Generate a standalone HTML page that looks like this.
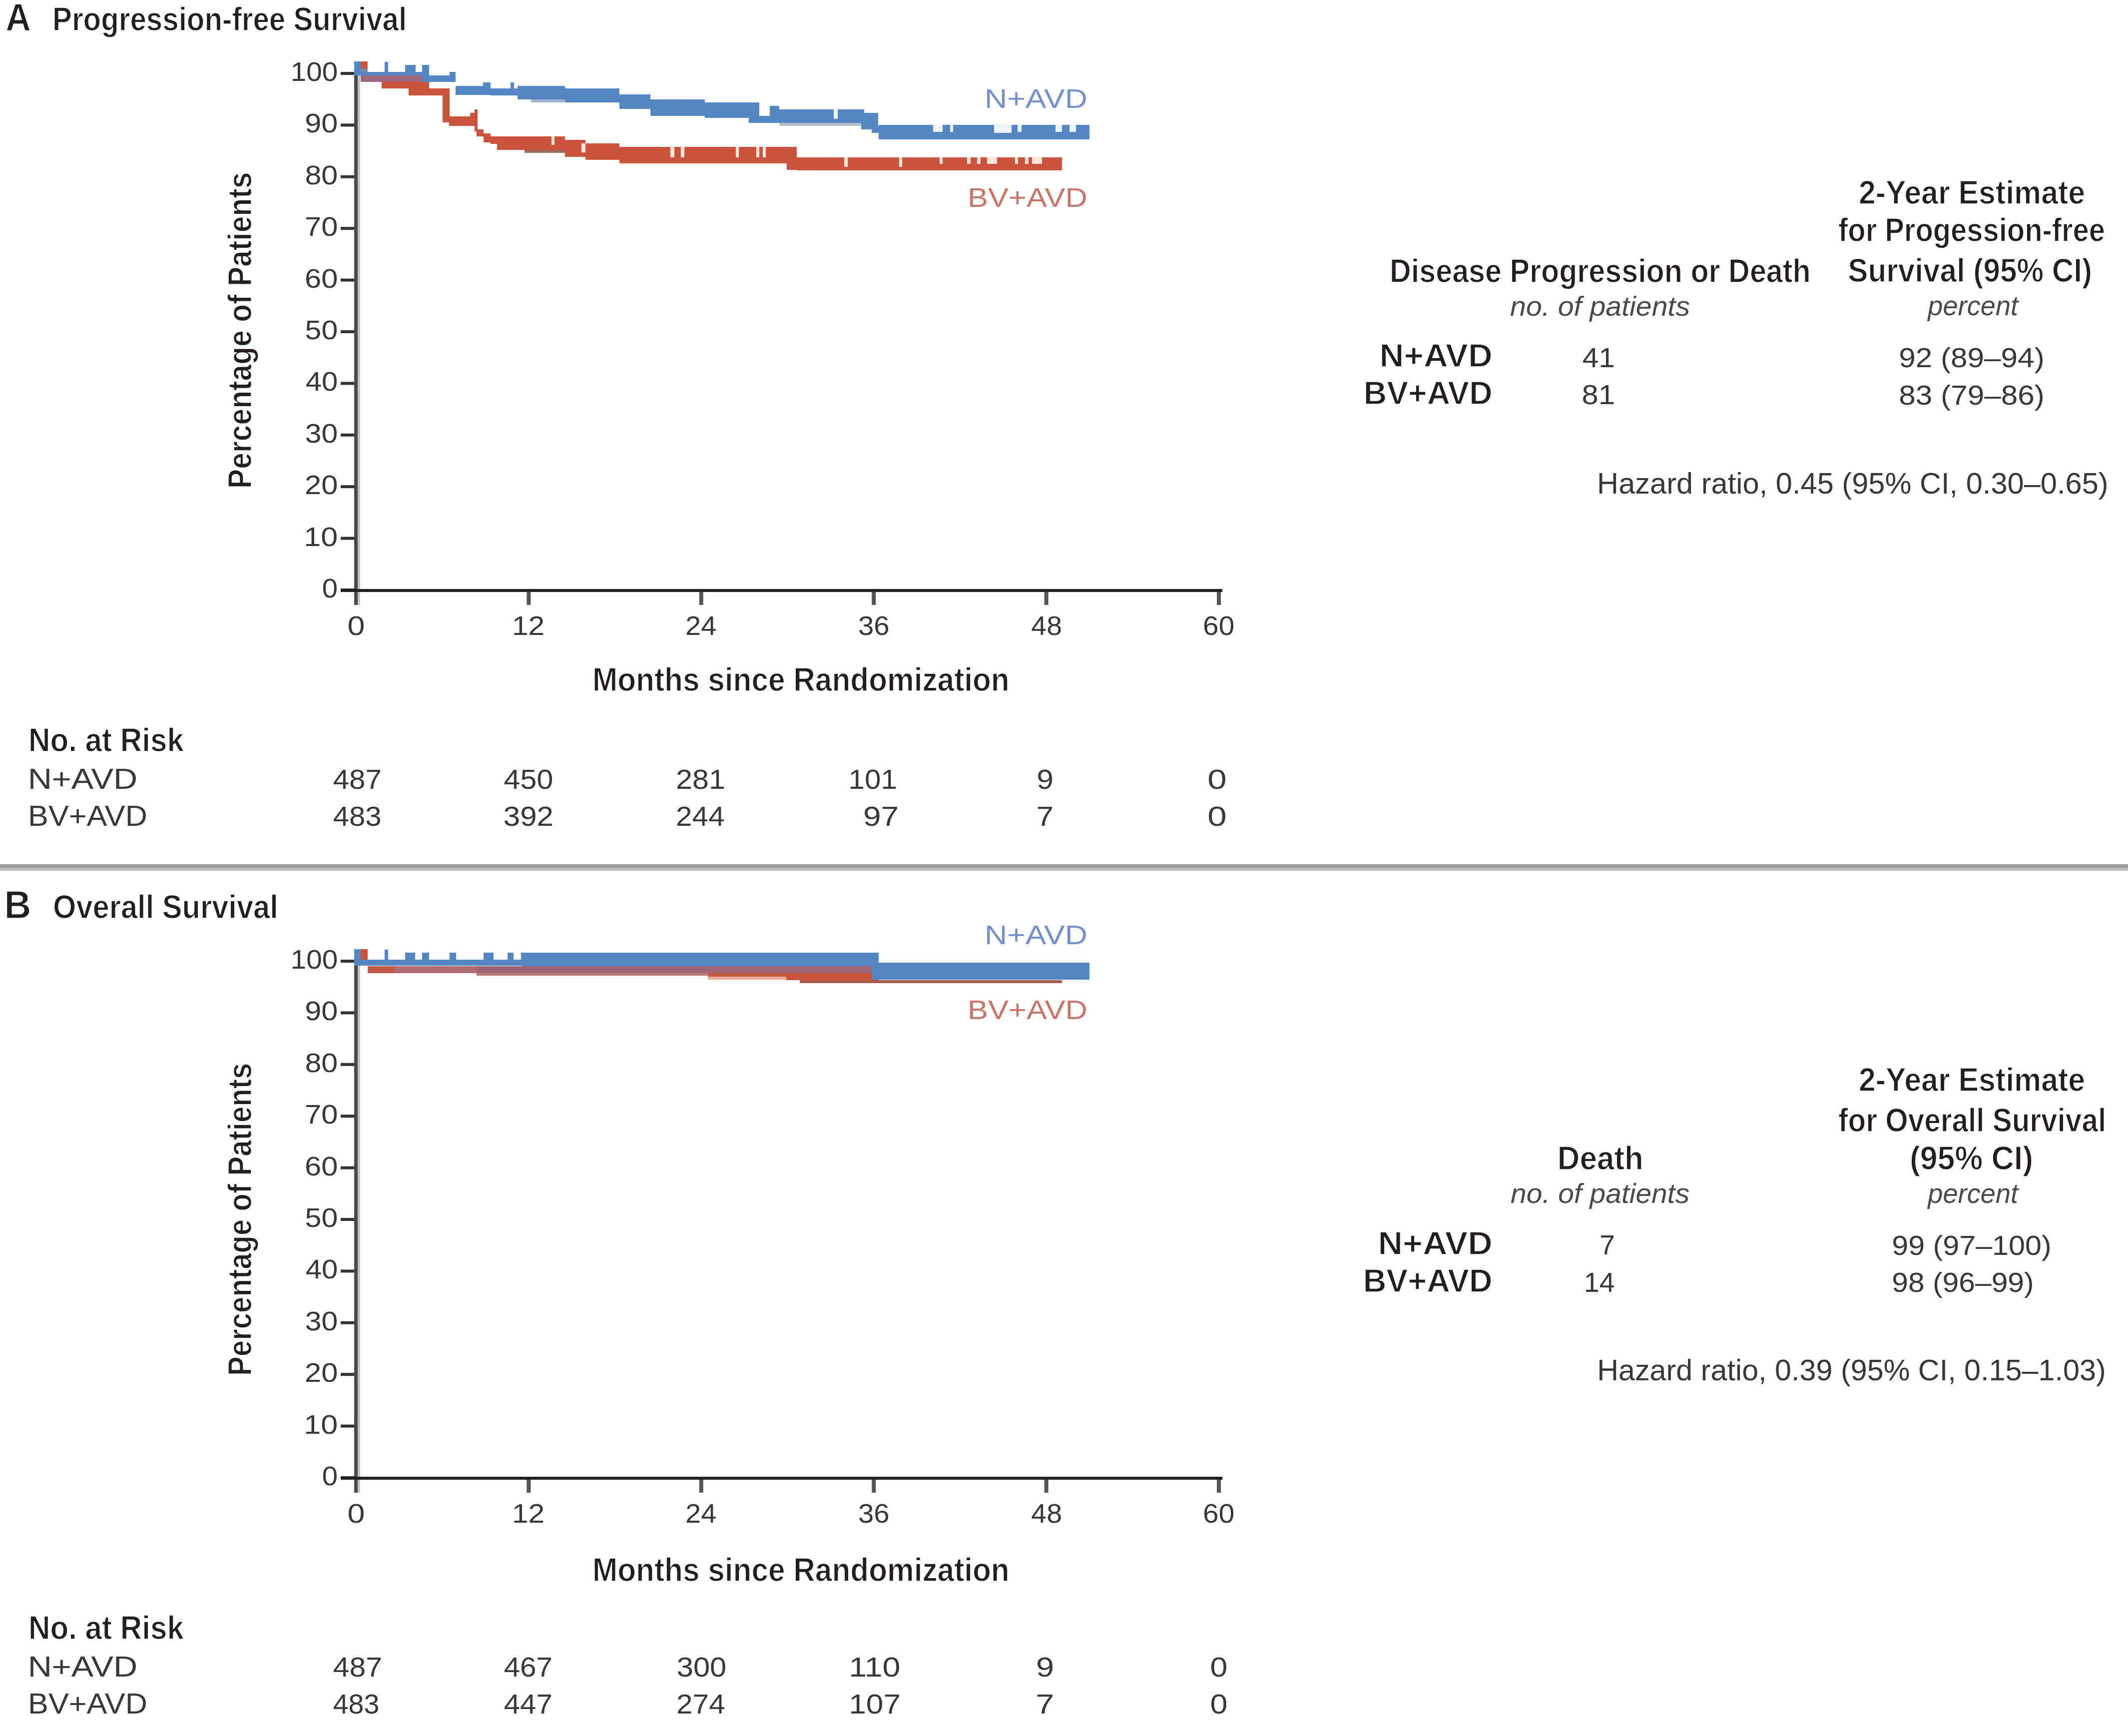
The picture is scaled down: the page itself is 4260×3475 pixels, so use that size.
<!DOCTYPE html>
<html><head><meta charset="utf-8"><title>Kaplan-Meier curves</title>
<style>
html,body{margin:0;padding:0;background:#fff;}
body{width:4260px;height:3475px;}
svg{display:block;font-family:"Liberation Sans",sans-serif;}
</style></head><body>
<svg width="4260" height="3475" viewBox="0 0 4260 3475">
<rect width="4260" height="3475" fill="#ffffff"/>
<text x="11.26" y="62.00" font-size="78.49" textLength="50.59" lengthAdjust="spacingAndGlyphs" font-weight="bold" fill="#231f20" stroke="#ffffff" stroke-width="1.4" stroke-linejoin="round">A</text>
<text x="105.10" y="61.00" font-size="66.86" textLength="709.02" lengthAdjust="spacingAndGlyphs" font-weight="bold" fill="#231f20" stroke="#ffffff" stroke-width="1.4" stroke-linejoin="round">Progression-free Survival</text>
<rect x="709.0" y="145.0" width="7.0" height="1066.0" fill="#4a4a4a"/>
<rect x="716.0" y="150.0" width="5.0" height="1061.0" fill="#c4c4c4"/>
<rect x="682.0" y="1178.0" width="27.0" height="6.0" fill="#333333"/>
<rect x="682.0" y="1074.6" width="27.0" height="6.0" fill="#333333"/>
<rect x="682.0" y="971.2" width="27.0" height="6.0" fill="#333333"/>
<rect x="682.0" y="867.8" width="27.0" height="6.0" fill="#333333"/>
<rect x="682.0" y="764.4" width="27.0" height="6.0" fill="#333333"/>
<rect x="682.0" y="661.0" width="27.0" height="6.0" fill="#333333"/>
<rect x="682.0" y="557.6" width="27.0" height="6.0" fill="#333333"/>
<rect x="682.0" y="454.2" width="27.0" height="6.0" fill="#333333"/>
<rect x="682.0" y="350.8" width="27.0" height="6.0" fill="#333333"/>
<rect x="682.0" y="247.4" width="27.0" height="6.0" fill="#333333"/>
<rect x="682.0" y="144.0" width="27.0" height="6.0" fill="#333333"/>
<rect x="682.0" y="1179.0" width="1765.0" height="6.0" fill="#222222"/>
<rect x="1054.4" y="1185.0" width="8.0" height="26.0" fill="#555555"/>
<rect x="1399.8" y="1185.0" width="8.0" height="26.0" fill="#555555"/>
<rect x="1745.2" y="1185.0" width="8.0" height="26.0" fill="#555555"/>
<rect x="2090.6" y="1185.0" width="8.0" height="26.0" fill="#555555"/>
<rect x="2436.0" y="1185.0" width="8.0" height="26.0" fill="#555555"/>
<text x="644.79" y="1196.00" font-size="53.78" textLength="31.41" lengthAdjust="spacingAndGlyphs" fill="#383838">0</text>
<text x="608.34" y="1092.60" font-size="53.78" textLength="68.05" lengthAdjust="spacingAndGlyphs" fill="#383838">10</text>
<text x="610.00" y="989.20" font-size="53.78" textLength="66.33" lengthAdjust="spacingAndGlyphs" fill="#383838">20</text>
<text x="610.76" y="885.80" font-size="53.78" textLength="65.55" lengthAdjust="spacingAndGlyphs" fill="#383838">30</text>
<text x="611.67" y="782.40" font-size="53.78" textLength="64.60" lengthAdjust="spacingAndGlyphs" fill="#383838">40</text>
<text x="610.64" y="679.00" font-size="53.78" textLength="65.67" lengthAdjust="spacingAndGlyphs" fill="#383838">50</text>
<text x="609.97" y="575.60" font-size="53.78" textLength="66.36" lengthAdjust="spacingAndGlyphs" fill="#383838">60</text>
<text x="609.94" y="472.20" font-size="53.78" textLength="66.39" lengthAdjust="spacingAndGlyphs" fill="#383838">70</text>
<text x="610.43" y="368.80" font-size="53.78" textLength="65.89" lengthAdjust="spacingAndGlyphs" fill="#383838">80</text>
<text x="610.21" y="265.40" font-size="53.78" textLength="66.11" lengthAdjust="spacingAndGlyphs" fill="#383838">90</text>
<text x="581.68" y="162.00" font-size="53.78" textLength="94.53" lengthAdjust="spacingAndGlyphs" fill="#383838">100</text>
<text x="695.55" y="1271.00" font-size="53.78" textLength="34.90" lengthAdjust="spacingAndGlyphs" fill="#383838">0</text>
<text x="1024.92" y="1271.00" font-size="53.78" textLength="65.44" lengthAdjust="spacingAndGlyphs" fill="#383838">12</text>
<text x="1371.98" y="1271.00" font-size="53.78" textLength="62.47" lengthAdjust="spacingAndGlyphs" fill="#383838">24</text>
<text x="1718.06" y="1271.00" font-size="53.78" textLength="62.62" lengthAdjust="spacingAndGlyphs" fill="#383838">36</text>
<text x="2064.33" y="1271.00" font-size="53.78" textLength="61.68" lengthAdjust="spacingAndGlyphs" fill="#383838">48</text>
<text x="2408.12" y="1271.00" font-size="53.78" textLength="63.10" lengthAdjust="spacingAndGlyphs" fill="#383838">60</text>
<text x="1185.96" y="1383.00" font-size="66.86" textLength="834.78" lengthAdjust="spacingAndGlyphs" font-weight="bold" fill="#231f20" stroke="#ffffff" stroke-width="1.4" stroke-linejoin="round">Months since Randomization</text>
<text transform="translate(503.0,974.0) rotate(-90)" x="-3.93" y="0" font-size="66.86" textLength="633.34" lengthAdjust="spacingAndGlyphs" font-weight="bold" fill="#231f20" stroke="#ffffff" stroke-width="1.4" stroke-linejoin="round">Percentage of Patients</text>
<rect x="722" y="123" width="14" height="14" fill="#c9533d"/>
<rect x="722" y="151" width="123" height="13" fill="#a0687f"/>
<rect x="764" y="164" width="95" height="13" fill="#c9533d"/>
<rect x="818" y="177" width="71" height="14" fill="#c9533d"/>
<rect x="886" y="177" width="14" height="68" fill="#c9533d"/>
<rect x="899" y="233" width="42" height="19" fill="#c9533d"/>
<rect x="941" y="226" width="12" height="26" fill="#c9533d"/>
<rect x="950" y="219" width="6" height="44" fill="#c9533d"/>
<rect x="954" y="259" width="14" height="14" fill="#c9533d"/>
<rect x="968" y="267" width="14" height="18" fill="#c9533d"/>
<rect x="982" y="273" width="13" height="15" fill="#c9533d"/>
<rect x="995" y="273" width="136" height="27" fill="#c9533d"/>
<rect x="1050" y="300" width="81" height="6" fill="#a06a5c"/>
<rect x="1131" y="280" width="41" height="34" fill="#c9533d"/>
<rect x="1172" y="287" width="68" height="33" fill="#c9533d"/>
<rect x="1240" y="294" width="355" height="33" fill="#c9533d"/>
<rect x="1575" y="320" width="27" height="20" fill="#c9533d"/>
<rect x="1595" y="315" width="531" height="26" fill="#c9533d"/>
<rect x="709" y="123" width="13" height="28" fill="#5586c4"/>
<rect x="722" y="137" width="14" height="7" fill="#7a88a8"/>
<rect x="722" y="144" width="137" height="7" fill="#5586c4"/>
<rect x="770" y="124" width="7" height="27" fill="#5586c4"/>
<rect x="811" y="130" width="21" height="21" fill="#5586c4"/>
<rect x="845" y="130" width="14" height="34" fill="#5586c4"/>
<rect x="859" y="151" width="53" height="13" fill="#5586c4"/>
<rect x="900" y="144" width="12" height="20" fill="#5586c4"/>
<rect x="912" y="172" width="55" height="18" fill="#5586c4"/>
<rect x="967" y="165" width="15" height="25" fill="#5586c4"/>
<rect x="982" y="177" width="54" height="14" fill="#5586c4"/>
<rect x="1022" y="165" width="7" height="26" fill="#5586c4"/>
<rect x="1036" y="172" width="95" height="27" fill="#5586c4"/>
<rect x="1063" y="199" width="68" height="6" fill="#a4b3d3"/>
<rect x="1131" y="177" width="109" height="28" fill="#5586c4"/>
<rect x="1240" y="189" width="62" height="29" fill="#5586c4"/>
<rect x="1302" y="199" width="109" height="33" fill="#5586c4"/>
<rect x="1411" y="205" width="88" height="31" fill="#5586c4"/>
<rect x="1499" y="205" width="21" height="41" fill="#5586c4"/>
<rect x="1520" y="232" width="21" height="14" fill="#5586c4"/>
<rect x="1541" y="212" width="19" height="34" fill="#5586c4"/>
<rect x="1560" y="219" width="170" height="27" fill="#5586c4"/>
<rect x="1560" y="246" width="170" height="6" fill="#b3bdcc"/>
<rect x="1730" y="226" width="28" height="27" fill="#5586c4"/>
<rect x="1724" y="246" width="21" height="13" fill="#5586c4"/>
<rect x="1745" y="253" width="14" height="13" fill="#5586c4"/>
<rect x="1759" y="250" width="422" height="29" fill="#5586c4"/>
<rect x="1104" y="273" width="6" height="17" fill="#fbe6dc"/>
<rect x="1164" y="287" width="8" height="18" fill="#fbe6dc"/>
<rect x="1342" y="294" width="8" height="21" fill="#fbe6dc"/>
<rect x="1363" y="294" width="7" height="21" fill="#fbe6dc"/>
<rect x="1473" y="294" width="6" height="21" fill="#fbe6dc"/>
<rect x="1514" y="294" width="6" height="21" fill="#fbe6dc"/>
<rect x="1527" y="294" width="6" height="21" fill="#fbe6dc"/>
<rect x="1690" y="315" width="7" height="19" fill="#fbe6dc"/>
<rect x="1800" y="315" width="6" height="19" fill="#fbe6dc"/>
<rect x="1881" y="314" width="6" height="14" fill="#fbe6dc"/>
<rect x="1936" y="314" width="7" height="14" fill="#fbe6dc"/>
<rect x="1956" y="314" width="7" height="14" fill="#fbe6dc"/>
<rect x="1976" y="314" width="20" height="14" fill="#fbe6dc"/>
<rect x="2032" y="314" width="6" height="14" fill="#fbe6dc"/>
<rect x="2052" y="314" width="7" height="14" fill="#fbe6dc"/>
<rect x="2066" y="314" width="20" height="14" fill="#fbe6dc"/>
<rect x="1669" y="219" width="8" height="19" fill="#eef5fc"/>
<rect x="1868" y="249" width="19" height="15" fill="#eef5fc"/>
<rect x="1902" y="249" width="6" height="15" fill="#eef5fc"/>
<rect x="1990" y="249" width="35" height="17" fill="#eef5fc"/>
<rect x="2037" y="249" width="8" height="15" fill="#eef5fc"/>
<rect x="2113" y="249" width="13" height="15" fill="#eef5fc"/>
<rect x="2141" y="249" width="13" height="15" fill="#eef5fc"/>
<text x="1970.98" y="216.00" font-size="53.78" textLength="205.96" lengthAdjust="spacingAndGlyphs" fill="#7590c8">N+AVD</text>
<text x="1937.05" y="414.00" font-size="53.78" textLength="239.84" lengthAdjust="spacingAndGlyphs" fill="#c8766a">BV+AVD</text>
<text x="3720.91" y="408.00" font-size="66.86" textLength="453.16" lengthAdjust="spacingAndGlyphs" font-weight="bold" fill="#231f20" stroke="#ffffff" stroke-width="1.4" stroke-linejoin="round">2-Year Estimate</text>
<text x="3680.01" y="483.00" font-size="66.86" textLength="533.97" lengthAdjust="spacingAndGlyphs" font-weight="bold" fill="#231f20" stroke="#ffffff" stroke-width="1.4" stroke-linejoin="round">for Progession-free</text>
<text x="3699.26" y="564.00" font-size="66.86" textLength="488.74" lengthAdjust="spacingAndGlyphs" font-weight="bold" fill="#231f20" stroke="#ffffff" stroke-width="1.4" stroke-linejoin="round">Survival (95% CI)</text>
<text x="3859.35" y="631.00" font-size="54.89" textLength="180.77" lengthAdjust="spacingAndGlyphs" font-style="italic" fill="#4a4a4a">percent</text>
<text x="2782.04" y="565.00" font-size="66.86" textLength="842.63" lengthAdjust="spacingAndGlyphs" font-weight="bold" fill="#231f20" stroke="#ffffff" stroke-width="1.4" stroke-linejoin="round">Disease Progression or Death</text>
<text x="3023.05" y="632.00" font-size="54.89" textLength="360.13" lengthAdjust="spacingAndGlyphs" font-style="italic" fill="#4a4a4a">no. of patients</text>
<text x="2761.57" y="734.00" font-size="65.41" textLength="226.21" lengthAdjust="spacingAndGlyphs" font-weight="bold" fill="#231f20" stroke="#ffffff" stroke-width="1.4" stroke-linejoin="round">N+AVD</text>
<text x="2729.78" y="809.00" font-size="65.41" textLength="257.87" lengthAdjust="spacingAndGlyphs" font-weight="bold" fill="#231f20" stroke="#ffffff" stroke-width="1.4" stroke-linejoin="round">BV+AVD</text>
<text x="3167.65" y="735.00" font-size="55.23" textLength="65.21" lengthAdjust="spacingAndGlyphs" fill="#383838">41</text>
<text x="3166.40" y="809.00" font-size="55.23" textLength="66.52" lengthAdjust="spacingAndGlyphs" fill="#383838">81</text>
<text x="3801.17" y="735.00" font-size="55.23" textLength="291.56" lengthAdjust="spacingAndGlyphs" fill="#383838">92 (89–94)</text>
<text x="3801.38" y="810.00" font-size="55.23" textLength="291.35" lengthAdjust="spacingAndGlyphs" fill="#383838">83 (79–86)</text>
<text x="3197.11" y="988.00" font-size="59.59" textLength="1023.58" lengthAdjust="spacingAndGlyphs" fill="#383838">Hazard ratio, 0.45 (95% CI, 0.30–0.65)</text>
<text x="56.97" y="1504.00" font-size="66.86" textLength="310.97" lengthAdjust="spacingAndGlyphs" font-weight="bold" fill="#231f20" stroke="#ffffff" stroke-width="1.4" stroke-linejoin="round">No. at Risk</text>
<text x="55.65" y="1579.00" font-size="56.69" textLength="219.48" lengthAdjust="spacingAndGlyphs" fill="#383838">N+AVD</text>
<text x="56.07" y="1653.00" font-size="56.69" textLength="238.80" lengthAdjust="spacingAndGlyphs" fill="#383838">BV+AVD</text>
<text x="666.66" y="1579.00" font-size="55.23" textLength="97.27" lengthAdjust="spacingAndGlyphs" fill="#383838">487</text>
<text x="1008.64" y="1579.00" font-size="55.23" textLength="98.67" lengthAdjust="spacingAndGlyphs" fill="#383838">450</text>
<text x="1353.02" y="1579.00" font-size="55.23" textLength="98.87" lengthAdjust="spacingAndGlyphs" fill="#383838">281</text>
<text x="1698.56" y="1579.00" font-size="55.23" textLength="97.29" lengthAdjust="spacingAndGlyphs" fill="#383838">101</text>
<text x="2075.16" y="1579.00" font-size="55.23" textLength="33.71" lengthAdjust="spacingAndGlyphs" fill="#383838">9</text>
<text x="2417.30" y="1579.00" font-size="55.23" textLength="38.39" lengthAdjust="spacingAndGlyphs" fill="#383838">0</text>
<text x="666.67" y="1653.00" font-size="55.23" textLength="96.88" lengthAdjust="spacingAndGlyphs" fill="#383838">483</text>
<text x="1007.71" y="1653.00" font-size="55.23" textLength="100.31" lengthAdjust="spacingAndGlyphs" fill="#383838">392</text>
<text x="1353.06" y="1653.00" font-size="55.23" textLength="97.66" lengthAdjust="spacingAndGlyphs" fill="#383838">244</text>
<text x="1728.00" y="1653.00" font-size="55.23" textLength="71.22" lengthAdjust="spacingAndGlyphs" fill="#383838">97</text>
<text x="2074.84" y="1653.00" font-size="55.23" textLength="34.26" lengthAdjust="spacingAndGlyphs" fill="#383838">7</text>
<text x="2417.30" y="1653.00" font-size="55.23" textLength="38.39" lengthAdjust="spacingAndGlyphs" fill="#383838">0</text>
<rect x="0.0" y="1730.0" width="4260.0" height="7.0" fill="#9a9a9a"/>
<rect x="0.0" y="1737.0" width="4260.0" height="6.0" fill="#bcbcbc"/>
<text x="8.51" y="1838.00" font-size="78.49" textLength="53.88" lengthAdjust="spacingAndGlyphs" font-weight="bold" fill="#231f20" stroke="#ffffff" stroke-width="1.4" stroke-linejoin="round">B</text>
<text x="106.05" y="1838.00" font-size="66.86" textLength="450.77" lengthAdjust="spacingAndGlyphs" font-weight="bold" fill="#231f20" stroke="#ffffff" stroke-width="1.4" stroke-linejoin="round">Overall Survival</text>
<rect x="709.0" y="1922.0" width="7.0" height="1066.0" fill="#4a4a4a"/>
<rect x="716.0" y="1927.0" width="5.0" height="1061.0" fill="#c4c4c4"/>
<rect x="682.0" y="2955.0" width="27.0" height="6.0" fill="#333333"/>
<rect x="682.0" y="2851.6" width="27.0" height="6.0" fill="#333333"/>
<rect x="682.0" y="2748.2" width="27.0" height="6.0" fill="#333333"/>
<rect x="682.0" y="2644.8" width="27.0" height="6.0" fill="#333333"/>
<rect x="682.0" y="2541.4" width="27.0" height="6.0" fill="#333333"/>
<rect x="682.0" y="2438.0" width="27.0" height="6.0" fill="#333333"/>
<rect x="682.0" y="2334.6" width="27.0" height="6.0" fill="#333333"/>
<rect x="682.0" y="2231.2" width="27.0" height="6.0" fill="#333333"/>
<rect x="682.0" y="2127.8" width="27.0" height="6.0" fill="#333333"/>
<rect x="682.0" y="2024.4" width="27.0" height="6.0" fill="#333333"/>
<rect x="682.0" y="1921.0" width="27.0" height="6.0" fill="#333333"/>
<rect x="682.0" y="2956.0" width="1765.0" height="6.0" fill="#222222"/>
<rect x="1054.4" y="2962.0" width="8.0" height="26.0" fill="#555555"/>
<rect x="1399.8" y="2962.0" width="8.0" height="26.0" fill="#555555"/>
<rect x="1745.2" y="2962.0" width="8.0" height="26.0" fill="#555555"/>
<rect x="2090.6" y="2962.0" width="8.0" height="26.0" fill="#555555"/>
<rect x="2436.0" y="2962.0" width="8.0" height="26.0" fill="#555555"/>
<text x="644.79" y="2973.00" font-size="53.78" textLength="31.41" lengthAdjust="spacingAndGlyphs" fill="#383838">0</text>
<text x="608.34" y="2869.60" font-size="53.78" textLength="68.05" lengthAdjust="spacingAndGlyphs" fill="#383838">10</text>
<text x="610.00" y="2766.20" font-size="53.78" textLength="66.33" lengthAdjust="spacingAndGlyphs" fill="#383838">20</text>
<text x="610.76" y="2662.80" font-size="53.78" textLength="65.55" lengthAdjust="spacingAndGlyphs" fill="#383838">30</text>
<text x="611.67" y="2559.40" font-size="53.78" textLength="64.60" lengthAdjust="spacingAndGlyphs" fill="#383838">40</text>
<text x="610.64" y="2456.00" font-size="53.78" textLength="65.67" lengthAdjust="spacingAndGlyphs" fill="#383838">50</text>
<text x="609.97" y="2352.60" font-size="53.78" textLength="66.36" lengthAdjust="spacingAndGlyphs" fill="#383838">60</text>
<text x="609.94" y="2249.20" font-size="53.78" textLength="66.39" lengthAdjust="spacingAndGlyphs" fill="#383838">70</text>
<text x="610.43" y="2145.80" font-size="53.78" textLength="65.89" lengthAdjust="spacingAndGlyphs" fill="#383838">80</text>
<text x="610.21" y="2042.40" font-size="53.78" textLength="66.11" lengthAdjust="spacingAndGlyphs" fill="#383838">90</text>
<text x="581.68" y="1939.00" font-size="53.78" textLength="94.53" lengthAdjust="spacingAndGlyphs" fill="#383838">100</text>
<text x="695.55" y="3048.00" font-size="53.78" textLength="34.90" lengthAdjust="spacingAndGlyphs" fill="#383838">0</text>
<text x="1024.92" y="3048.00" font-size="53.78" textLength="65.44" lengthAdjust="spacingAndGlyphs" fill="#383838">12</text>
<text x="1371.98" y="3048.00" font-size="53.78" textLength="62.47" lengthAdjust="spacingAndGlyphs" fill="#383838">24</text>
<text x="1718.06" y="3048.00" font-size="53.78" textLength="62.62" lengthAdjust="spacingAndGlyphs" fill="#383838">36</text>
<text x="2064.33" y="3048.00" font-size="53.78" textLength="61.68" lengthAdjust="spacingAndGlyphs" fill="#383838">48</text>
<text x="2408.12" y="3048.00" font-size="53.78" textLength="63.10" lengthAdjust="spacingAndGlyphs" fill="#383838">60</text>
<text x="1185.96" y="3165.00" font-size="66.86" textLength="834.78" lengthAdjust="spacingAndGlyphs" font-weight="bold" fill="#231f20" stroke="#ffffff" stroke-width="1.4" stroke-linejoin="round">Months since Randomization</text>
<text transform="translate(503.0,2750.0) rotate(-90)" x="-3.89" y="0" font-size="66.86" textLength="626.27" lengthAdjust="spacingAndGlyphs" font-weight="bold" fill="#231f20" stroke="#ffffff" stroke-width="1.4" stroke-linejoin="round">Percentage of Patients</text>
<rect x="722" y="1900" width="14" height="21" fill="#c9533d"/>
<rect x="736" y="1934" width="54" height="14" fill="#c25a45"/>
<rect x="790" y="1934" width="164" height="14" fill="#b06a70"/>
<rect x="954" y="1934" width="791" height="14" fill="#9e6675"/>
<rect x="954" y="1948" width="463" height="5" fill="#b87a70"/>
<rect x="1417" y="1948" width="157" height="7" fill="#c55a40"/>
<rect x="1417" y="1955" width="157" height="6" fill="#f0a890"/>
<rect x="1574" y="1948" width="185" height="14" fill="#c9533d"/>
<rect x="1601" y="1962" width="525" height="6" fill="#a85e4c"/>
<rect x="709" y="1900" width="13" height="33" fill="#5586c4"/>
<rect x="722" y="1921" width="323" height="12" fill="#5586c4"/>
<rect x="770" y="1901" width="7" height="32" fill="#5586c4"/>
<rect x="811" y="1907" width="20" height="26" fill="#5586c4"/>
<rect x="845" y="1907" width="14" height="26" fill="#5586c4"/>
<rect x="900" y="1907" width="13" height="26" fill="#5586c4"/>
<rect x="968" y="1907" width="20" height="26" fill="#5586c4"/>
<rect x="1016" y="1907" width="12" height="26" fill="#5586c4"/>
<rect x="1043" y="1907" width="716" height="27" fill="#5586c4"/>
<rect x="1745" y="1927" width="14" height="34" fill="#5586c4"/>
<rect x="1759" y="1927" width="422" height="34" fill="#5586c4"/>
<text x="1970.98" y="1890.00" font-size="53.78" textLength="205.96" lengthAdjust="spacingAndGlyphs" fill="#7590c8">N+AVD</text>
<text x="1937.05" y="2040.00" font-size="53.78" textLength="239.84" lengthAdjust="spacingAndGlyphs" fill="#c8766a">BV+AVD</text>
<text x="3720.91" y="2184.00" font-size="66.86" textLength="453.16" lengthAdjust="spacingAndGlyphs" font-weight="bold" fill="#231f20" stroke="#ffffff" stroke-width="1.4" stroke-linejoin="round">2-Year Estimate</text>
<text x="3680.00" y="2265.00" font-size="66.86" textLength="536.14" lengthAdjust="spacingAndGlyphs" font-weight="bold" fill="#231f20" stroke="#ffffff" stroke-width="1.4" stroke-linejoin="round">for Overall Survival</text>
<text x="3822.88" y="2341.00" font-size="66.86" textLength="247.24" lengthAdjust="spacingAndGlyphs" font-weight="bold" fill="#231f20" stroke="#ffffff" stroke-width="1.4" stroke-linejoin="round">(95% CI)</text>
<text x="3859.35" y="2408.00" font-size="54.89" textLength="180.77" lengthAdjust="spacingAndGlyphs" font-style="italic" fill="#4a4a4a">percent</text>
<text x="3117.86" y="2341.00" font-size="66.86" textLength="171.98" lengthAdjust="spacingAndGlyphs" font-weight="bold" fill="#231f20" stroke="#ffffff" stroke-width="1.4" stroke-linejoin="round">Death</text>
<text x="3024.05" y="2408.00" font-size="54.89" textLength="358.12" lengthAdjust="spacingAndGlyphs" font-style="italic" fill="#4a4a4a">no. of patients</text>
<text x="2758.51" y="2511.00" font-size="65.41" textLength="229.31" lengthAdjust="spacingAndGlyphs" font-weight="bold" fill="#231f20" stroke="#ffffff" stroke-width="1.4" stroke-linejoin="round">N+AVD</text>
<text x="2728.76" y="2586.00" font-size="65.41" textLength="258.90" lengthAdjust="spacingAndGlyphs" font-weight="bold" fill="#231f20" stroke="#ffffff" stroke-width="1.4" stroke-linejoin="round">BV+AVD</text>
<text x="3202.18" y="2511.00" font-size="55.23" textLength="30.59" lengthAdjust="spacingAndGlyphs" fill="#383838">7</text>
<text x="3170.76" y="2586.00" font-size="55.23" textLength="61.87" lengthAdjust="spacingAndGlyphs" fill="#383838">14</text>
<text x="3787.22" y="2512.00" font-size="55.23" textLength="319.45" lengthAdjust="spacingAndGlyphs" fill="#383838">99 (97–100)</text>
<text x="3787.24" y="2586.00" font-size="55.23" textLength="284.40" lengthAdjust="spacingAndGlyphs" fill="#383838">98 (96–99)</text>
<text x="3197.14" y="2763.00" font-size="59.59" textLength="1018.54" lengthAdjust="spacingAndGlyphs" fill="#383838">Hazard ratio, 0.39 (95% CI, 0.15–1.03)</text>
<text x="56.97" y="3281.00" font-size="66.86" textLength="310.97" lengthAdjust="spacingAndGlyphs" font-weight="bold" fill="#231f20" stroke="#ffffff" stroke-width="1.4" stroke-linejoin="round">No. at Risk</text>
<text x="55.65" y="3356.00" font-size="56.69" textLength="219.48" lengthAdjust="spacingAndGlyphs" fill="#383838">N+AVD</text>
<text x="56.07" y="3430.00" font-size="56.69" textLength="238.80" lengthAdjust="spacingAndGlyphs" fill="#383838">BV+AVD</text>
<text x="666.65" y="3356.00" font-size="55.23" textLength="98.32" lengthAdjust="spacingAndGlyphs" fill="#383838">487</text>
<text x="1008.66" y="3356.00" font-size="55.23" textLength="97.27" lengthAdjust="spacingAndGlyphs" fill="#383838">467</text>
<text x="1354.73" y="3356.00" font-size="55.23" textLength="99.61" lengthAdjust="spacingAndGlyphs" fill="#383838">300</text>
<text x="1699.29" y="3356.00" font-size="55.23" textLength="103.12" lengthAdjust="spacingAndGlyphs" fill="#383838">110</text>
<text x="2073.96" y="3356.00" font-size="55.23" textLength="36.12" lengthAdjust="spacingAndGlyphs" fill="#383838">9</text>
<text x="2422.55" y="3356.00" font-size="55.23" textLength="34.90" lengthAdjust="spacingAndGlyphs" fill="#383838">0</text>
<text x="666.72" y="3430.00" font-size="55.23" textLength="92.72" lengthAdjust="spacingAndGlyphs" fill="#383838">483</text>
<text x="1008.66" y="3430.00" font-size="55.23" textLength="97.27" lengthAdjust="spacingAndGlyphs" fill="#383838">447</text>
<text x="1354.06" y="3430.00" font-size="55.23" textLength="97.66" lengthAdjust="spacingAndGlyphs" fill="#383838">274</text>
<text x="1699.26" y="3430.00" font-size="55.23" textLength="103.87" lengthAdjust="spacingAndGlyphs" fill="#383838">107</text>
<text x="2073.62" y="3430.00" font-size="55.23" textLength="36.70" lengthAdjust="spacingAndGlyphs" fill="#383838">7</text>
<text x="2422.55" y="3430.00" font-size="55.23" textLength="34.90" lengthAdjust="spacingAndGlyphs" fill="#383838">0</text>
</svg>
</body></html>
